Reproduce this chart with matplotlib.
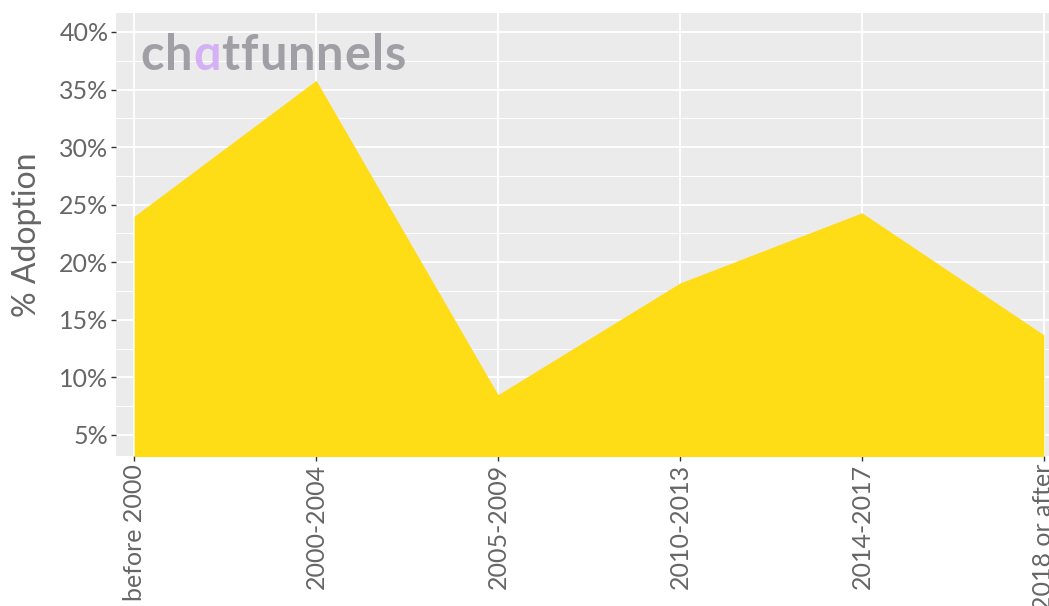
import numpy as np
import matplotlib.pyplot as plt
from matplotlib.ticker import FixedLocator, FuncFormatter

# adoption share by company founding period
periods = ['before 2000', '2000-2004', '2005-2009', '2010-2013', '2014-2017', '2018 or after']
adoption = [24.0, 35.8, 8.5, 18.2, 24.3, 13.7]
y_ticks = [5, 10, 15, 20, 25, 30, 35, 40]

FILL = '#fedd17'
PANEL = '#ebebeb'
TEXT = '#666666'

fig = plt.figure(figsize=(10.49, 6.06), dpi=100)
# panel runs off the right edge, like the original export
ax = fig.add_axes([116 / 1049, 150 / 606, 946 / 1049, 443 / 606])
ax.set_facecolor(PANEL)

x = np.arange(len(periods))
ax.fill_between(x, 0, adoption, color=FILL, linewidth=0, zorder=3)

ax.set_xlim(-0.1, 5.1)
ax.set_ylim(3.176, 41.65)

ax.yaxis.set_major_locator(FixedLocator(y_ticks))
ax.yaxis.set_minor_locator(FixedLocator([t + 2.5 for t in y_ticks[:-1]]))
ax.yaxis.set_major_formatter(FuncFormatter(lambda v, _: f'{v:.0f}%'))
ax.set_xticks(x)
ax.set_xticklabels(periods, rotation=90, va='top', ha='center')

ax.grid(which='major', color='white', linewidth=1.3, zorder=1)
ax.grid(which='minor', axis='y', color='white', linewidth=0.7, zorder=1)
ax.set_axisbelow(True)

for s in ax.spines.values():
    s.set_visible(False)

ax.tick_params(axis='both', which='major', length=3.5, width=1, color='#333333',
               labelsize=18, labelcolor=TEXT, pad=2)
ax.tick_params(axis='y', which='minor', length=0)
for lab in ax.get_xticklabels() + ax.get_yticklabels():
    lab.set_family('Lato')

ax.set_ylabel('% Adoption', fontsize=23, color=TEXT, family='Lato', labelpad=12)

# watermark logo: grey text with a lavender single-storey "a"
fig.canvas.draw()
renderer = fig.canvas.get_renderer()
x0, y0 = 140, 606 - 70
grey, lilac = '#a09fa5', '#d4b1f5'
logo = [('c', grey), ('h', grey), ('\u0251', lilac), ('t', grey), ('f', grey), ('u', grey),
        ('n', grey), ('n', grey), ('e', grey), ('l', grey), ('s', grey)]
for ch, col in logo:
    t = fig.text(x0 / 1049, y0 / 606, ch, color=col, fontsize=35,
                 family=['Lato', 'DejaVu Sans'], fontweight='bold',
                 ha='left', va='baseline', zorder=10)
    bb = t.get_window_extent(renderer)
    x0 = bb.x1 + 1.0

fig.savefig('out.png', dpi=100)
